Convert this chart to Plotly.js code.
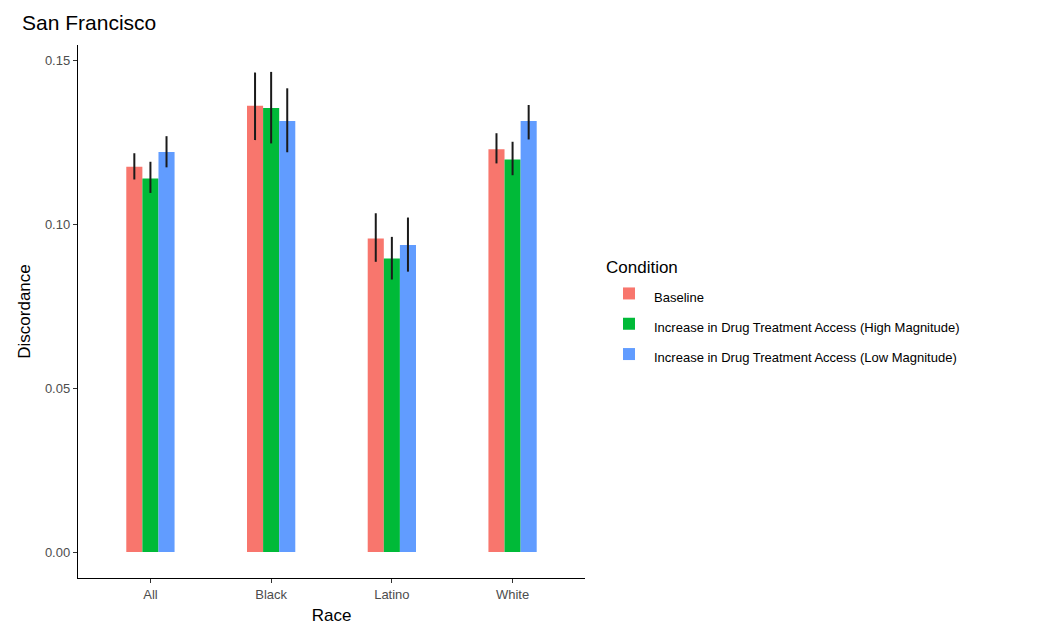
<!DOCTYPE html>
<html>
<head>
<meta charset="utf-8">
<script src="https://cdn.plot.ly/plotly-3.0.1.min.js"></script>
<style>html,body{margin:0;padding:0;background:#fff;}#chart{width:1050px;height:627px;}</style>
</head>
<body>
<div id="chart"></div>
<script>
const races = ["All", "Black", "Latino", "White"];
const conditions = ["Baseline", "Increase in Drug Treatment Access (High Magnitude)", "Increase in Drug Treatment Access (Low Magnitude)"];
const colors = ["#F8766D", "#00BA38", "#619CFF"];

const baselineVals = [0.1175, 0.1361, 0.0956, 0.1228];
const baselineLow  = [0.1136, 0.1256, 0.0885, 0.1185];
const baselineHigh = [0.1216, 0.1462, 0.1033, 0.1277];

const highVals = [0.1139, 0.1354, 0.0895, 0.1197];
const highLow  = [0.1095, 0.1246, 0.0831, 0.1149];
const highHigh = [0.1190, 0.1464, 0.0961, 0.1251];

const lowVals = [0.1220, 0.1314, 0.0936, 0.1314];
const lowLow  = [0.1173, 0.1219, 0.0855, 0.1258];
const lowHigh = [0.1268, 0.1414, 0.1020, 0.1363];

const series = [
  {vals: baselineVals, lo: baselineLow, hi: baselineHigh},
  {vals: highVals, lo: highLow, hi: highHigh},
  {vals: lowVals, lo: lowLow, hi: lowHigh}
];

const traces = series.map((s, i) => ({
  type: "bar",
  name: '<span style="font-size:13px">' + conditions[i] + '</span>',
  x: races,
  y: s.vals,
  marker: {color: colors[i]},
  error_y: {
    type: "data",
    symmetric: false,
    array: s.hi.map((h, k) => h - s.vals[k]),
    arrayminus: s.vals.map((v, k) => v - s.lo[k]),
    color: "#1a1a1a",
    thickness: 2,
    width: 0
  },
  hoverinfo: "x+y+name"
}));

const font = "Liberation Sans, Arial, sans-serif";
const layout = {
  width: 1050, height: 627,
  paper_bgcolor: "#fff", plot_bgcolor: "#fff",
  margin: {l: 78, r: 465, t: 45, b: 49},
  font: {family: font, color: "#000"},
  title: {text: "San Francisco", x: 22/1050, xanchor: "left", xref: "container", y: 1 - 23/627, yref: "container", yanchor: "middle", font: {size: 21, color: "#000", family: font}},
  barmode: "group",
  bargap: 0.6,
  bargroupgap: 0,
  showlegend: true,
  xaxis: {
    type: "category",
    range: [-0.6, 3.6],
    showline: true, linecolor: "#000", linewidth: 1.2,
    ticks: "outside", ticklen: 4, tickcolor: "#333", tickwidth: 1,
    tickfont: {size: 13, color: "#4D4D4D"},
    showgrid: false, zeroline: false,
    title: {text: "Race", font: {size: 17, color: "#000"}, standoff: 8}
  },
  yaxis: {
    range: [-0.0079, 0.1546],
    tickvals: [0, 0.05, 0.1, 0.15],
    ticktext: ["0.00", "0.05", "0.10", "0.15"],
    showline: true, linecolor: "#000", linewidth: 1.2,
    ticks: "outside", ticklen: 4, tickcolor: "#333", tickwidth: 1,
    tickfont: {size: 13, color: "#4D4D4D"},
    showgrid: false, zeroline: false,
    title: {text: "Discordance", font: {size: 17, color: "#000"}, standoff: 10}
  },
  legend: {
    x: (604 - 78)/507, xanchor: "left",
    y: (578 - 246)/533, yanchor: "top",
    title: {text: '<span style="font-size:17px">Condition</span>', font: {size: 21, color: "#000"}},
    font: {size: 21, color: "#000"},
    itemwidth: 40,
    tracegroupgap: 0,
    traceorder: "normal",
    bgcolor: "rgba(0,0,0,0)"
  }
};

Plotly.newPlot("chart", traces, layout, {displayModeBar: false, staticPlot: true});
</script>
</body>
</html>
